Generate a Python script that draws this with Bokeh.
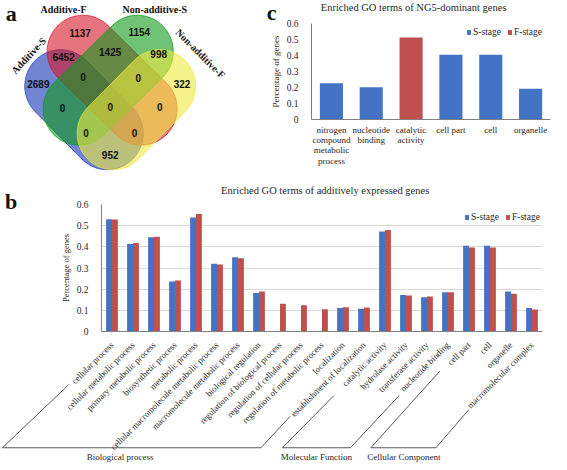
import math
from bokeh.plotting import figure
from bokeh.models import Range1d, FactorRange, FixedTicker, Legend, LegendItem, ColumnDataSource
from bokeh.transform import dodge
from bokeh.layouts import column, row
from bokeh.core.properties import value
from bokeh.embed import file_html
from bokeh.resources import INLINE

# ---------------- data ----------------
venn_set_names = ["Additive-S", "Additive-F", "Non-additive-S", "Non-additive-F"]
venn_region_counts = ["1137", "1154", "6452", "1425", "998", "2689", "0", "0", "322",
                      "0", "0", "0", "0", "0", "952"]

c_categories = ["nitrogen compound metabolic process", "nucleotide binding",
                "catalytic activity", "cell part", "cell", "organelle"]
c_label_lines = [["nitrogen", "compound", "metabolic", "process"], ["nucleotide", "binding"],
                 ["catalytic", "activity"], ["cell part"], ["cell"], ["organelle"]]
c_s_stage = [0.226, 0.202, 0.0, 0.404, 0.404, 0.192]
c_f_stage = [0.0, 0.0, 0.512, 0.0, 0.0, 0.0]

b_categories = ["cellular process", "cellular metabolic process", "primary metabolic process",
                "biosynthetic process", "metabolic process",
                "cellular macromolecule metabolic process", "macromolecule metabolic process",
                "biological regulation", "regulation of biological process",
                "regulation of cellular process", "regulation of metabolic process",
                "localization", "establishment of localization",
                "catalytic activity", "hydrolase activity", "transferase activity",
                "nucleotide binding", "cell part", "cell", "organelle", "macromolecular complex"]
b_group_names = ["Biological process", "Molecular Function", "Cellular Component"]
b_s_stage = [0.530, 0.413, 0.445, 0.236, 0.539, 0.320, 0.351, 0.182, 0.0, 0.0, 0.0,
             0.111, 0.108, 0.472, 0.173, 0.162, 0.186, 0.405, 0.405, 0.189, 0.111]
b_f_stage = [0.529, 0.418, 0.448, 0.241, 0.555, 0.316, 0.346, 0.189, 0.131, 0.124, 0.105,
             0.114, 0.113, 0.479, 0.170, 0.165, 0.186, 0.397, 0.397, 0.178, 0.104]
y_ticks = [0, 0.1, 0.2, 0.3, 0.4, 0.5, 0.6]

# ---------------- styles / layout ----------------
SERIF = "Liberation Serif"
SANS = "Liberation Sans"
BLUE = "#4472C4"
RED = "#C0504D"
AXIS = "#808080"
TXT = "#262626"
SX, SY = 0.972, 0.983          # reference-pixel -> page-pixel scale
TOP_H = 183                    # height of the top row
# panel c geometry
C_X0, C_W, C_H = 264, 287, TOP_H
C_L, C_R, C_T, C_B = 47, 1, 23, 64
# panel b geometry
B_W, B_H = 551, 279
B_L, B_R, B_T, B_B = 101, 9, 21, 131


def c_xy(xr, yr):
    fw, fh = C_W - C_L - C_R, C_H - C_T - C_B
    return ((xr * SX - C_X0 - C_L) / (fw / len(c_categories)),
            (C_H - C_B - yr * SY) / (fh / 0.6))


def b_xy(xr, yr):
    fw, fh = B_W - B_L - B_R, B_H - B_T - B_B
    return ((xr * SX - B_L) / (fw / len(b_categories)),
            (B_H - B_B - (yr * SY - TOP_H)) / (fh / 0.6))


# ---------------- panel a : Venn ----------------
pv = figure(width=264, height=TOP_H, x_range=Range1d(0, 272), y_range=Range1d(186, 0),
            x_axis_type=None, y_axis_type=None, output_backend="svg",
            toolbar_location=None, min_border=0)
pv.outline_line_color = None
pv.frame_align = False

R = 37
capsule_axes = [((62, 87), (110, 135)), ((85, 52), (145, 110)),
                ((141, 52), (81, 110)), ((164, 87), (116, 135))]
venn_fill = ["#1434B4", "#D5182A", "#10991A", "#EEEA40"]


def capsule(c1, c2, r, n=40):
    th = math.atan2(c2[1] - c1[1], c2[0] - c1[0])
    xs, ys = [], []
    for i in range(n + 1):
        a = th - math.pi / 2 + math.pi * i / n
        xs.append(c2[0] + r * math.cos(a)); ys.append(c2[1] + r * math.sin(a))
    for i in range(n + 1):
        a = th + math.pi / 2 + math.pi * i / n
        xs.append(c1[0] + r * math.cos(a)); ys.append(c1[1] + r * math.sin(a))
    return xs, ys


shp = [capsule(a, b, R) for a, b in capsule_axes]
pv.patches(xs=[s[0] for s in shp], ys=[s[1] for s in shp], fill_color=venn_fill,
           fill_alpha=0.6, line_color=venn_fill, line_alpha=0.7, line_width=1)

count_pos = [(82, 33), (143, 32), (65, 57), (113, 52), (163, 54), (39, 85), (85, 78),
             (142, 79), (187, 85), (64, 109), (113, 108), (164, 108), (88, 135),
             (138, 135), (113, 157)]
pv.text(x=[p[0] for p in count_pos], y=[p[1] for p in count_pos], text=venn_region_counts,
        text_font=value(SANS), text_font_style="bold", text_font_size="10px",
        text_color="#111111", text_align="center", text_baseline="middle")

set_pos = [(29, 56, math.radians(47)), (65, 9, 0), (159, 9, 0), (206, 54, math.radians(-45))]
pv.text(x=[p[0] for p in set_pos], y=[p[1] for p in set_pos], angle=[p[2] for p in set_pos],
        text=venn_set_names, text_font=value(SERIF), text_font_style="bold",
        text_font_size="10px", text_color="#111111", text_align="center",
        text_baseline="middle")
pv.text(x=[11], y=[13.5], text=["a"], text_font=value(SERIF), text_font_style="bold",
        text_font_size="22px", text_color="#111111", text_align="center",
        text_baseline="alphabetic")


def style_axes(p, xsize, ysize):
    for ax in p.axis:
        ax.major_tick_line_color = None
        ax.minor_tick_line_color = None
        ax.axis_line_color = AXIS
        ax.major_label_text_font = SERIF
        ax.major_label_text_color = TXT
    p.xaxis.major_label_text_font_size = xsize
    p.yaxis.major_label_text_font_size = ysize
    p.yaxis.ticker = FixedTicker(ticks=y_ticks)
    p.yaxis.major_label_overrides = {0: "0"}
    p.yaxis.axis_label = "Percentage of genes"
    p.yaxis.axis_label_text_font = SERIF
    p.yaxis.axis_label_text_font_style = "normal"
    p.yaxis.axis_label_text_color = TXT
    p.outline_line_color = None
    p.frame_align = False


def overlay_text(p, xs, ys, texts, size, bold=False, baseline="middle", align="center"):
    r = p.text(x=xs, y=ys, text=texts, text_font=value(SERIF),
               text_font_style="bold" if bold else "normal", text_font_size=size,
               text_color="#111111" if bold else TXT, text_align=align,
               text_baseline=baseline)
    r.level = "overlay"
    return r


def make_legend(rs, rf, loc):
    return Legend(items=[LegendItem(label="S-stage", renderers=[rs]),
                         LegendItem(label="F-stage", renderers=[rf])],
                  location=loc, orientation="horizontal", padding=0, spacing=6,
                  label_standoff=2, glyph_width=5, glyph_height=6, label_height=10,
                  label_text_font=SERIF, label_text_font_size="9.5px",
                  label_text_color=TXT, border_line_color=None,
                  background_fill_alpha=0, margin=0)


# ---------------- panel c ----------------
# the axis shows the first line of each wrapped category name
c_axis_keys = [ls[0] for ls in c_label_lines]
pc = figure(width=C_W, height=C_H, x_range=FactorRange(factors=c_axis_keys),
            y_range=Range1d(0, 0.6), output_backend="svg", toolbar_location=None,
            min_border_left=C_L, min_border_right=C_R, min_border_top=C_T,
            min_border_bottom=C_B)
src_c = ColumnDataSource(dict(cat=c_axis_keys, name=c_categories, s=c_s_stage, f=c_f_stage))
rcs = pc.vbar(x="cat", top="s", width=0.58, source=src_c, fill_color=BLUE, line_color=None)
rcf = pc.vbar(x="cat", top="f", width=0.58, source=src_c, fill_color=RED, line_color=None)
style_axes(pc, "9px", "9.5px")
pc.grid.visible = False
pc.xaxis.major_tick_out = 0
pc.xaxis.major_label_standoff = 5
pc.yaxis.major_label_standoff = 7
pc.yaxis.axis_label_text_font_size = "9px"
pc.yaxis.axis_label_standoff = 3

# remaining lines of the wrapped category labels
lab_x, lab_y, lab_t = [], [], []
for key, lines in zip(c_axis_keys, c_label_lines):
    for k, ln in enumerate(lines[1:], start=1):
        lab_x.append(key)
        lab_y.append(c_xy(0, 131 + 10.7 * k)[1])
        lab_t.append(ln)
overlay_text(pc, lab_x, lab_y, lab_t, "9px")

pc.add_layout(make_legend(rcs, rcf, (155, 82)))
tx, ty = c_xy(425, 7.5)
overlay_text(pc, [tx], [ty], ["Enriched GO terms of NG5-dominant genes"], "10.5px")
lx, ly = c_xy(279, 12.5)
overlay_text(pc, [lx], [ly], ["c"], "22px", bold=True, baseline="alphabetic")

# ---------------- panel b ----------------
pb = figure(width=B_W, height=B_H, x_range=FactorRange(factors=b_categories),
            y_range=Range1d(0, 0.6), output_backend="svg", toolbar_location=None,
            min_border_left=B_L, min_border_right=B_R, min_border_top=B_T,
            min_border_bottom=B_B)
src_b = ColumnDataSource(dict(cat=b_categories, s=b_s_stage, f=b_f_stage))
rbs = pb.vbar(x=dodge("cat", -0.14, range=pb.x_range), top="s", width=0.28, source=src_b,
              fill_color=BLUE, line_color=None)
rbf = pb.vbar(x=dodge("cat", 0.14, range=pb.x_range), top="f", width=0.28, source=src_b,
              fill_color=RED, line_color=None)
style_axes(pb, "8.8px", "9.5px")
pb.xgrid.visible = False
pb.ygrid.ticker = FixedTicker(ticks=y_ticks)
pb.ygrid.grid_line_color = "#D9D9D9"
pb.xaxis.major_label_orientation = math.pi / 4
pb.xaxis.major_label_standoff = 6
pb.yaxis.major_label_standoff = 7
pb.yaxis.axis_label_text_font_size = "8.5px"
pb.yaxis.axis_label_standoff = 3
pb.add_layout(make_legend(rbs, rbf, (363, 109)))
tx, ty = b_xy(334, 193)
overlay_text(pb, [tx], [ty], ["Enriched GO terms of additively expressed genes"], "10.5px")
lx, ly = b_xy(11, 204)
overlay_text(pb, [lx], [ly], ["b"], "22px", bold=True, baseline="alphabetic")

# group brackets below the category labels (layout decoration, reference pixels)
bracket_ref = [[(70, 391), (2, 455), (268, 455), (298, 423)],
               [(343, 402), (290, 455), (360, 455), (410, 402)],
               [(452, 377), (381, 455), (448, 455), (482, 416)]]
bxs = [[b_xy(*pt)[0] for pt in br] for br in bracket_ref]
bys = [[b_xy(*pt)[1] for pt in br] for br in bracket_ref]
rbr = pb.multi_line(xs=bxs, ys=bys, line_color="#595959", line_width=1)
rbr.level = "overlay"
group_ref = [(123, 464), (325, 464), (415, 464)]
overlay_text(pb, [b_xy(*g)[0] for g in group_ref], [b_xy(*g)[1] for g in group_ref],
             b_group_names, "9px")

layout = column(row(pv, pc), pb)
open("out.html", "w").write(file_html(layout, INLINE))
